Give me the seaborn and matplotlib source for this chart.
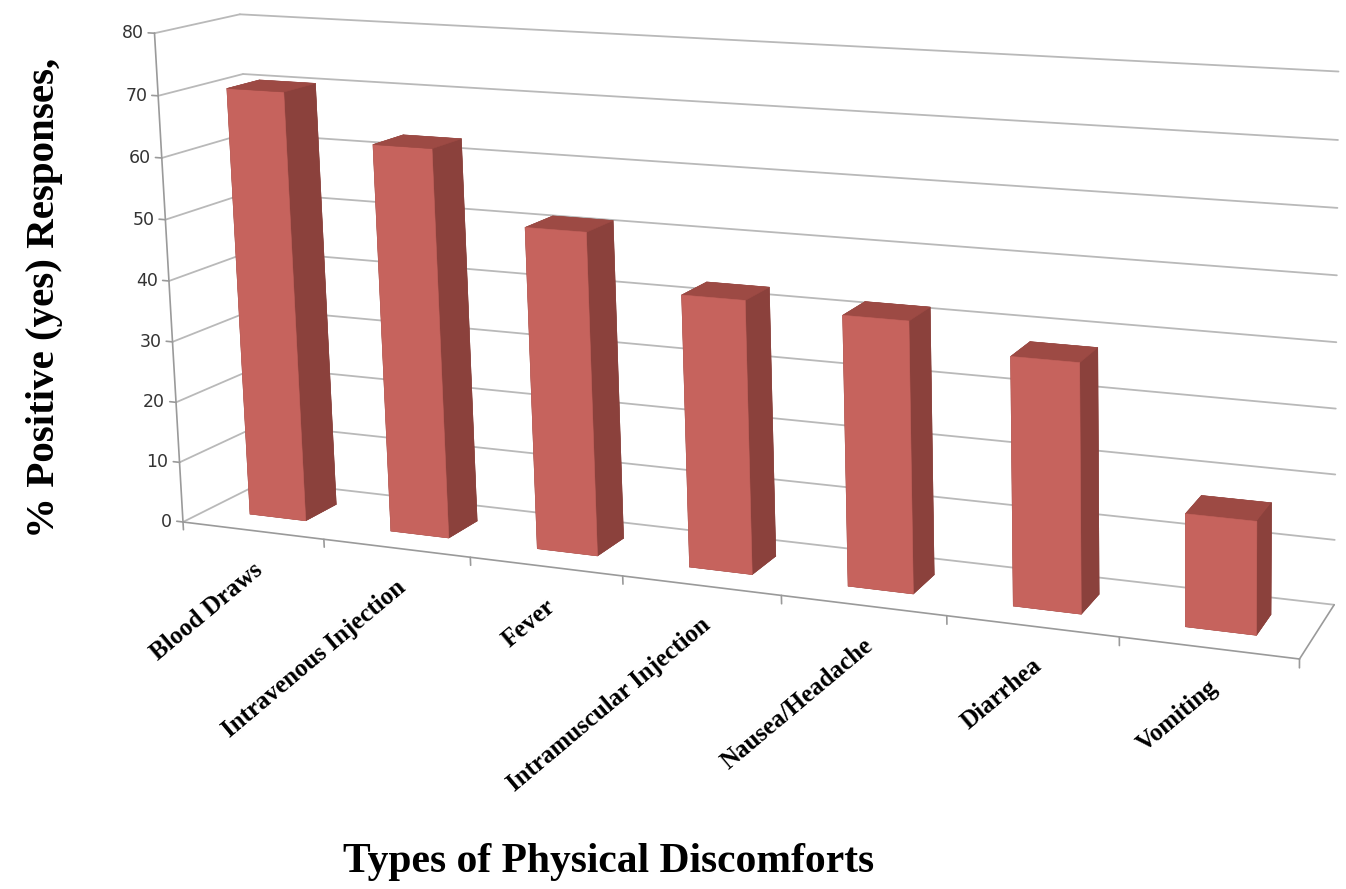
import numpy as np
import matplotlib
matplotlib.use("Agg")
import matplotlib.pyplot as plt
import matplotlib.transforms as mtransforms
import seaborn as sns
from mpl_toolkits.mplot3d import proj3d

# ---- data -------------------------------------------------------------
categories = ["Blood Draws", "Intravenous Injection", "Fever",
              "Intramuscular Injection", "Nausea/Headache", "Diarrhea",
              "Vomiting"]
percent_yes = [70.5, 63, 51.6, 43, 42, 38, 17]
value_ticks = [0, 10, 20, 30, 40, 50, 60, 70, 80]

# ---- style ------------------------------------------------------------
sns.set_theme(style="white")
plt.rcParams["font.family"] = ["Liberation Serif", "DejaVu Serif"]
plt.rcParams["text.color"] = "black"

FRONT = "#C6635D"
SIDE = "#8B413C"
TOP = "#9D4A44"
GRID = "#B9B9B9"
AXIS = "#9A9A9A"

W_PX, H_PX = 1346, 889
fig = plt.figure(figsize=(W_PX / 100, H_PX / 100), dpi=100)
ax = fig.add_axes([0, 0, 1, 1], projection="3d", computed_zorder=False)
ax.set_axis_off()

n = len(categories)
unit = 26.6                 # value units per category slot
depth = 0.77                # floor depth in category slots
zmax = value_ticks[-1]
x_hi = 12.6                 # widened box moves the view centre to the right
z_lo, z_hi = 44, 144
ax.set_xlim(0, x_hi)
ax.set_ylim(0, depth)
ax.set_zlim(z_lo, z_hi)
ax.set_box_aspect((x_hi, depth, (z_hi - z_lo) / unit))
ax.view_init(elev=7.9, azim=-73.1)
ax.set_proj_type("persp", focal_length=0.19)

fig.canvas.draw()


def to_px(x, y, z):
    xs, ys, _ = proj3d.proj_transform(x, y, z, ax.get_proj())
    return np.array(ax.transData.transform((xs, ys)))


# scale and place the scene so the floor's front edge spans the canvas
pa = to_px(0, 0, 0)
pb = to_px(n, 0, 0)
ta = np.array([183.0, H_PX - 522.0])
tb = np.array([1299.0, H_PX - 663.0])
pos = ax.get_position()
x0, y0 = pos.x0 * W_PX, pos.y0 * H_PX
side = pos.width * W_PX
k = np.linalg.norm(tb - ta) / np.linalg.norm(pb - pa)
ua = (pa - np.array([x0, y0])) / side
new_side = side * k
org = ta - new_side * ua
ax.set_position([org[0] / W_PX, org[1] / H_PX, new_side / W_PX, new_side / H_PX])
M = ax.get_proj()

# ---- walls ------------------------------------------------------------
tick_tr = mtransforms.offset_copy(ax.transData, fig=fig, x=-11, y=0,
                                  units="dots")
for v in value_ticks:
    ax.plot([0, n], [depth, depth], [v, v], color=GRID, lw=1.3, zorder=1)
    ax.plot([0, 0], [0, depth], [v, v], color=GRID, lw=1.3, zorder=1)
    ax.plot([-0.045, 0], [0, 0], [v, v], color=AXIS, lw=1.2, zorder=2)
    px, py, _ = proj3d.proj_transform(0, 0, v, M)
    fig.text(px, py, f"{v}", transform=tick_tr, ha="right", va="center",
             fontsize=12.5, color="#333333", family="DejaVu Sans")
ax.plot([0, 0], [0, 0], [0, zmax], color=AXIS, lw=1.2, zorder=2)

# floor outline and category ticks
ax.plot([0, n], [0, 0], [0, 0], color=AXIS, lw=1.2, zorder=2)
ax.plot([n, n], [0, depth], [0, 0], color=AXIS, lw=1.2, zorder=2)
for i in range(n + 1):
    ax.plot([i, i], [0, 0], [0, -1.3], color=AXIS, lw=1.2, zorder=2)

# ---- bars -------------------------------------------------------------
bw, bd = 0.4, 0.3
xs = np.arange(n) + 0.5 - bw / 2
ys = np.full(n, depth / 2 - bd / 2)
zs = np.zeros(n)
# face order: bottom, top, front, back, left, right
face_cols = [SIDE, TOP, FRONT, SIDE, SIDE, SIDE] * n
ax.bar3d(xs, ys, zs, np.full(n, bw), np.full(n, bd), percent_yes,
         color=face_cols, edgecolor=face_cols, linewidth=0.4, shade=False,
         zorder=4)

# ---- category labels (projected anchor, slanted text) -----------------
lab_tr = mtransforms.offset_copy(ax.transData, fig=fig, x=-1, y=-28,
                                 units="dots")
for i, lab in enumerate(categories):
    px, py, _ = proj3d.proj_transform(i + 0.5, 0, 0, M)
    fig.text(px, py, lab, transform=lab_tr, rotation=40,
             rotation_mode="anchor", ha="right", va="top", fontsize=18,
             fontweight="bold")

fig.text(45 / W_PX, 1 - 298 / H_PX, "% Positive (yes) Responses,",
         rotation=90, ha="center", va="center", fontsize=29.5,
         fontweight="bold")
fig.text(609 / W_PX, 1 - 862 / H_PX, "Types of Physical Discomforts",
         ha="center", va="center", fontsize=30, fontweight="bold")

fig.savefig("out.png", dpi=100)
